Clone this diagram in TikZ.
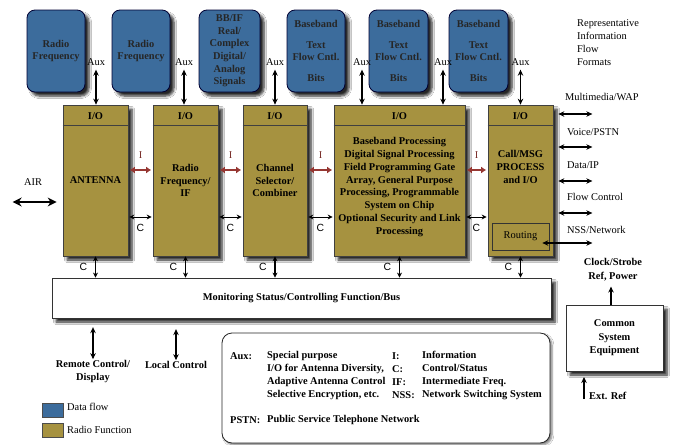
\documentclass[tikz,border=0pt]{standalone}
\usepackage{fontspec}
\setmainfont{Liberation Serif}
\newfontfamily\sansf{Liberation Sans}
\usetikzlibrary{shadows,shadows.blur,arrows.meta,calc}
\definecolor{dfblue}{RGB}{60,108,156}
\definecolor{rfgold}{RGB}{166,146,64}
\definecolor{iarrow}{RGB}{150,55,50}
\begin{document}
\begin{tikzpicture}[x=1pt,y=-1pt,
  txt/.style={font=\fontsize{10.4}{12.8}\selectfont, inner sep=1pt},
  btxt/.style={font=\fontsize{10.4}{12.8}\selectfont\bfseries, inner sep=1pt},
  csans/.style={font=\fontsize{10.4}{12}\selectfont\sansf, inner sep=1pt},
  shad/.style={blur shadow={shadow xshift=4pt,shadow yshift=-4pt,shadow blur steps=6,shadow blur radius=2.5pt,shadow opacity=85}},
  flowbox/.style={draw=black!80!blue, fill=dfblue, rounded corners=8pt, line width=0.8pt, shad,
     font=\fontsize{10.4}{12.6}\selectfont\bfseries, align=center, text=black!85, inner sep=0pt,
     minimum height=82pt},
  radiobox/.style={draw=black!75, fill=rfgold, line width=0.7pt, shad,
     font=\fontsize{10.4}{12.8}\selectfont\bfseries, align=center, inner sep=0pt, minimum height=151pt},
  dbl/.style={{Stealth[length=6pt,width=5.5pt]}-{Stealth[length=6pt,width=5.5pt]}, line width=1.3pt},
  uarr/.style={-{Stealth[length=6pt,width=5.5pt]}, line width=1.3pt},
  carr/.style={{Stealth[length=5pt,width=5pt]}-{Stealth[length=5pt,width=5pt]}, line width=0.9pt},
  iarr/.style={{Latex[length=5pt,width=7pt]}-{Latex[length=5pt,width=7pt]}, line width=2.4pt, iarrow},
  airarr/.style={{Stealth[length=9pt,width=9pt]}-{Stealth[length=9pt,width=9pt]}, line width=2.2pt}
]
\fill[white] (0,0) rectangle (673,445);
\useasboundingbox (0,0) rectangle (673,445);

% data flow boxes
\node[flowbox, minimum width=58pt] (b1) at (56,51) {Radio\\Frequency};
\node[flowbox, minimum width=58pt] (b2) at (141,51) {Radio\\Frequency};
\node[flowbox, minimum width=61pt] (b3) at (229.5,51) {BB/IF\\Real/\\Complex\\Digital/\\Analog\\Signals};
\node[flowbox, minimum width=58pt] (b4) at (316,51) {Baseband\\[8pt]Text\\Flow Cntl.\\[8pt]Bits};
\node[flowbox, minimum width=59pt] (b5) at (398.5,51) {Baseband\\[8pt]Text\\Flow Cntl.\\[8pt]Bits};
\node[flowbox, minimum width=59pt] (b6) at (478.5,51) {Baseband\\[8pt]Text\\Flow Cntl.\\[8pt]Bits};

% radio function boxes
\node[radiobox, minimum width=65pt] (a1) at (95.5,180.5) {ANTENNA};
\node[radiobox, minimum width=65pt] (a2) at (185.5,180.5) {Radio\\Frequency/\\IF};
\node[radiobox, minimum width=64pt] (a3) at (275,180.5) {Channel\\Selector/\\Combiner};
\node[radiobox, minimum width=131pt] (a4) at (399.5,180.5) {};
\node[radiobox, minimum width=65pt] (a5) at (520.5,180.5) {};
\foreach \n in {a1,a2,a3,a4,a5}{
  \draw[line width=0.8pt, black!75] ([yshift=-21pt]\n.north west) -- ([yshift=-21pt]\n.north east);
  \node[btxt] (io-\n) at ([yshift=-11pt]\n.north) {I/O};
}
\node[btxt, align=center] (a4t) at (399.5,187) {Baseband Processing\\Digital Signal Processing\\Field Programming Gate\\Array, General Purpose\\Processing, Programmable\\System on Chip\\Optional Security and Link\\Processing};
\node[btxt, align=center] (a5t) at (520.5,167) {Call/MSG\\PROCESS\\and I/O};
\node[txt, draw=black!80, line width=0.7pt, minimum width=57pt, minimum height=27pt, inner sep=0pt] (rt) at (520.5,236.5) {Routing};

% Aux
\node[txt] (aux1) at (96,62) {Aux};
\node[txt] (aux2) at (184,62) {Aux};
\node[txt] (aux3) at (275,62) {Aux};
\node[txt] (aux4) at (362,62) {Aux};
\node[txt] (aux5) at (443,62) {Aux};
\node[txt] (aux6) at (520.5,62) {Aux};
\draw[dbl, shorten <=3pt] (aux1.south) -- (aux1.south |- a1.north);
\draw[dbl, shorten <=3pt] (aux2.south) -- (aux2.south |- a2.north);
\draw[dbl, shorten <=3pt] (aux3.south) -- (aux3.south |- a3.north);
\draw[dbl, shorten <=3pt] (aux4.south) -- (aux4.south |- a4.north);
\draw[dbl, shorten <=3pt] (aux5.south) -- (aux5.south |- a4.north);
\draw[dbl, shorten <=3pt] (aux6.south) -- (aux6.south |- a5.north);

% I and C between boxes
\foreach \p/\q [count=\k] in {a1/a2,a2/a3,a3/a4,a4/a5}{
  \draw[iarr, shorten <=1.5pt, shorten >=1.5pt] ([yshift=10.5pt]\p.east) -- ([yshift=10.5pt]\q.west)
     node[txt, iarrow!80!black, midway, yshift=15pt] (il\k) {I};
  \draw[carr, shorten <=1pt, shorten >=1pt] ([yshift=-36.5pt]\p.east) -- ([yshift=-36.5pt]\q.west)
     node[csans, midway, yshift=-11pt] (cl\k) {C};
}

% bus
\node[btxt, draw=black!80, fill=white, line width=0.8pt, minimum width=499pt, minimum height=40pt, shad] (bus) at (301.5,298) {Monitoring Status/Controlling Function/Bus};
\foreach \n [count=\k] in {a1,a2,a3,a4,a5}{
  \draw[carr, line width=1.1pt] (\n.south) -- (\n.south |- bus.north);
  \node[csans] (bc\k) at ([xshift=-12pt,yshift=-11pt]\n.south) {C};
}

% right side
\node[txt, anchor=west, align=left] (rep) at (576,42.5) {Representative\\Information\\Flow\\Formats};
\node[txt, anchor=west] (mm) at (564,97) {Multimedia/WAP};
\node[txt, anchor=west] (vo) at (566,132) {Voice/PSTN};
\node[txt, anchor=west] (di) at (566,165) {Data/IP};
\node[txt, anchor=west] (fc) at (566,197) {Flow Control};
\node[txt, anchor=west] (nn) at (566,230) {NSS/Network};
\draw[dbl, shorten <=5pt] ([yshift=66.5pt]a5.east) -- ++(39,0);
\draw[dbl, shorten <=5pt] ([yshift=33.5pt]a5.east) -- ++(39,0);
\draw[dbl, shorten <=5pt] ([yshift=-0.5pt]a5.east) -- ++(39,0);
\draw[dbl, shorten <=5pt] ([yshift=-32.5pt]a5.east) -- ++(39,0);
\draw[dbl] ([xshift=-7pt,yshift=-6.5pt]rt.east) -- ++(50,0);

% AIR
\node[txt] (air) at (33,182) {AIR};
\draw[airarr, shorten <=6pt] ([yshift=-21.5pt]a1.west) -- ++(-50,0);

% common system equipment
\node[btxt, draw=black!80, fill=white, line width=0.8pt, minimum width=97pt, minimum height=66pt, align=center, shad, font=\fontsize{10.4}{13.5}\selectfont\bfseries] (cse) at (614.5,338) {Common\\System\\Equipment};
\node[btxt, align=center, font=\fontsize{10.4}{14}\selectfont\bfseries] (clk) at (613,270) {Clock/Strobe\\Ref, Power};
\draw[uarr, shorten >=2pt] ([xshift=-3.5pt]cse.north) -- ++(0,-20);
\node[btxt, anchor=west] (ext) at (588,396) {Ext. Ref};
\draw[uarr] ([xshift=-4pt,yshift=-3pt]ext.west) -- ++(0,-22);

% controls
\node[btxt, align=center] (rc) at (93,371.5) {Remote Control/\\Display};
\node[btxt] (lc) at (176,365) {Local Control};
\draw[dbl] (rc.north) -- ++(0,-32);
\draw[dbl] ([yshift=0pt]lc.north) -- ++(0,-31);

% legend squares
\node[draw=black!70, fill=dfblue, minimum width=21pt, minimum height=14pt, inner sep=0pt] (lg1) at (52.5,410) {};
\node[txt, anchor=west] (lg1t) at (66,407) {Data flow};
\node[draw=black!70, fill=rfgold, minimum width=21pt, minimum height=14pt, inner sep=0pt] (lg2) at (52.5,430.5) {};
\node[txt, anchor=west] (lg2t) at (66,430) {Radio Function};

% key box
\node[draw=black!85, fill=white, rounded corners=10pt, line width=0.8pt, minimum width=328pt, minimum height=110pt,
  blur shadow={shadow xshift=2pt,shadow yshift=-2pt,shadow blur steps=5,shadow opacity=50}] (key) at (386,388) {};
\node[btxt, anchor=west] (kaux) at (229,356) {Aux:};
\node[btxt, anchor=west, align=left, font=\fontsize{10.4}{13}\selectfont\bfseries] (kauxt) at (266,375.5) {Special purpose\\I/O for Antenna Diversity,\\Adaptive Antenna Control\\Selective Encryption, etc.};
\node[btxt, anchor=west, align=left, font=\fontsize{10.4}{13}\selectfont\bfseries] (kab) at (391,375.5) {I:\\C:\\IF:\\NSS:};
\node[btxt, anchor=west, align=left, font=\fontsize{10.4}{13}\selectfont\bfseries] (kdef) at (421,375.5) {Information\\Control/Status\\Intermediate Freq.\\Network Switching System};
\node[btxt, anchor=west] (kpstn) at (229,420) {PSTN:};
\node[btxt, anchor=west] (kpstnt) at (266,420) {Public Service Telephone Network};
\end{tikzpicture}
\end{document}
